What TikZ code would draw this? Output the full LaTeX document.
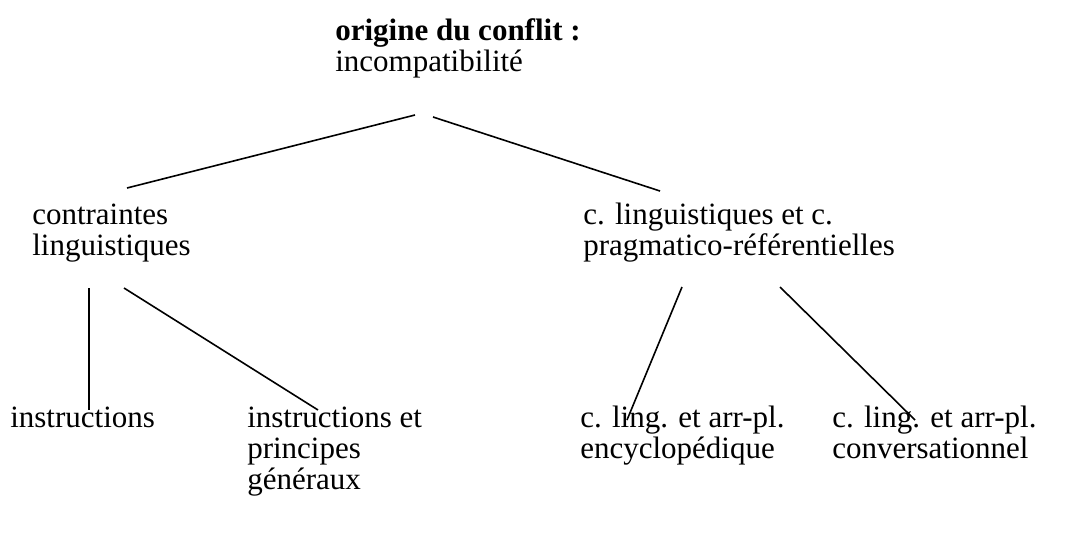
\documentclass[tikz,border=0pt]{standalone}
\usepackage{fontspec}
\setmainfont{Liberation Serif}
\usepackage{tikz}
\tikzset{lbl/.style={anchor=base west, inner sep=0pt, align=left,
    font=\fontsize{23.25pt}{23.25pt}\selectfont},
  branch/.style={line width=1.2pt}}

\begin{document}
\begin{tikzpicture}[x=0.75pt, y=-0.75pt]
\useasboundingbox (0,0) rectangle (1068,536);
% labels (placed at the baseline of their last line)
\node[lbl] (1) at (335,71)  {\textbf{origine du conflit :}\\incompatibilité};
\node[lbl] (2) at (32,255)  {contraintes\\linguistiques};
\node[lbl] (3) at (583,255) {c. linguistiques et c.\\pragmatico-référentielles};
\node[lbl] (4) at (10,427)  {instructions};
\node[lbl] (5) at (247,489) {instructions et\\principes\\généraux};
\node[lbl] (6) at (580,458) {c. ling. et arr-pl.\\encyclopédique};
\node[lbl] (7) at (832,458) {c. ling. et arr-pl.\\conversationnel};

% free ends of the branches
\coordinate (1a) at (415,115);
\coordinate (1b) at (433,117);
\coordinate (2t) at (127,188);
\coordinate (3t) at (660,191);
\coordinate (2a) at (89,288);
\coordinate (2b) at (124,288);
\coordinate (3a) at (682,287);
\coordinate (3b) at (780,287);
\coordinate (4t) at (89,410);
\coordinate (5t) at (318,410);
\coordinate (6t) at (627,420);
\coordinate (7t) at (915,420);

\draw[branch] (1a) -- (2t);
\draw[branch] (1b) -- (3t);
\draw[branch] (2a) -- (4t);
\draw[branch] (2b) -- (5t);
\draw[branch] (3a) -- (6t);
\draw[branch] (3b) -- (7t);
\end{tikzpicture}
\end{document}
